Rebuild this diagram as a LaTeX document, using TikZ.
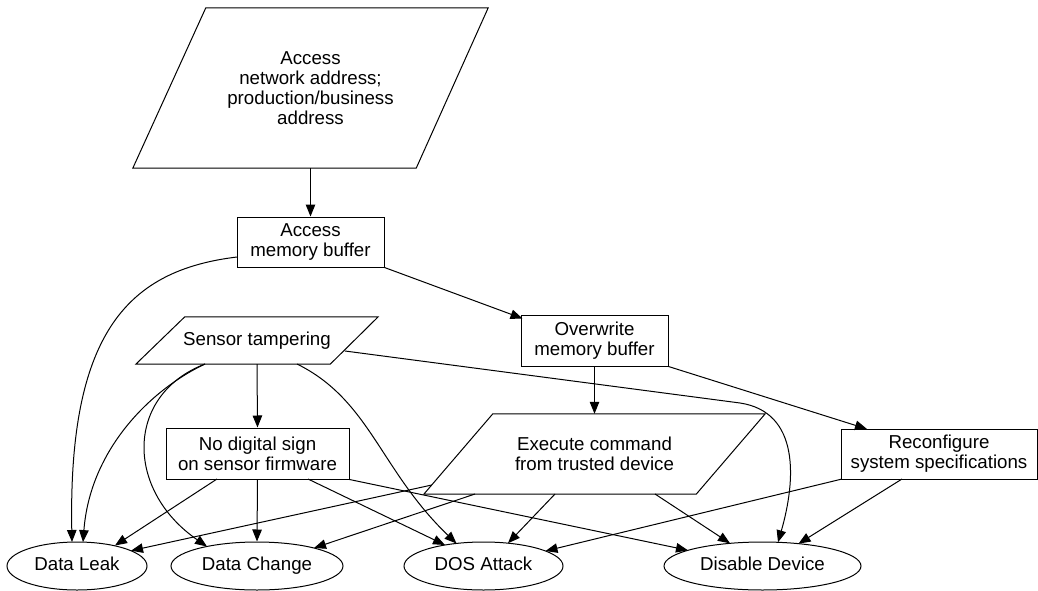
\documentclass[tikz,border=0pt]{standalone}
\usepackage{fontspec}
\setmainfont{Liberation Sans}
\usetikzlibrary{arrows.meta,calc,shapes.geometric}
\begin{document}
\begin{tikzpicture}[x=1pt,y=-1pt,
  every node/.style={font=\fontsize{18.7}{20}\selectfont, align=center, inner sep=0pt},
  rbox/.style={draw, line width=1pt, rectangle},
  pbox/.style={rectangle},
  oval/.style={draw, line width=1pt, ellipse, text height=13.4pt, text depth=4pt},
  pline/.style={draw, line width=1pt},
  conn/.style={-{Triangle[length=12pt,width=9.5pt]}, line width=1pt}]
\useasboundingbox (0,0) rectangle (1038,591);
% nodes
\node[pbox, minimum width=355pt, minimum height=160pt] (top) at (310.5,88) {Access\\network address;\\production/business\\address};
\node[rbox, minimum width=147pt, minimum height=50pt] (amb) at (310.5,242) {Access\\memory buffer};
\node[pbox, minimum width=242pt, minimum height=47pt] (sens) at (257,340.5) {Sensor tampering};
\node[rbox, minimum width=147pt, minimum height=51pt] (owb) at (594.5,340.5) {Overwrite\\memory buffer};
\node[rbox, minimum width=183pt, minimum height=51pt] (nds) at (257.5,453.5) {No digital sign\\on sensor firmware};
\node[pbox, minimum width=341pt, minimum height=80pt] (exe) at (594.5,454) {Execute command\\from trusted device};
\node[rbox, minimum width=196pt, minimum height=50pt] (rec) at (939,454) {Reconfigure\\system specifications};
\node[oval, minimum width=140pt, minimum height=48pt] (leak) at (77,566) {Data Leak};
\node[oval, minimum width=172pt, minimum height=48pt] (chg) at (257,566) {Data Change};
\node[oval, minimum width=159pt, minimum height=48pt] (dos) at (483.5,566) {DOS Attack};
\node[oval, minimum width=197pt, minimum height=48pt] (dis) at (762.5,566) {Disable Device};
% parallelogram outlines
\path[pline] ([xshift=73pt]top.north west) -- (top.north east) -- ([xshift=-72pt]top.south east) -- (top.south west) -- cycle;
\path[pline] ([xshift=49pt]sens.north west) -- (sens.north east) -- ([xshift=-48pt]sens.south east) -- (sens.south west) -- cycle;
\path[pline] ([xshift=69pt]exe.north west) -- (exe.north east) -- ([xshift=-69pt]exe.south east) -- (exe.south west) -- cycle;
% connectors
\draw[conn] (top.south) -- (amb.north);
\draw[conn] ($(amb.center)+(-73.5,15)$) .. controls (130,270) and (68,330) .. ($(leak.center)+(-5,-24)$);
\draw[conn] (amb.south east) -- ($(owb.center)+(-72,-22)$);
\draw[conn] (sens.south) -- (nds.north);
\draw[conn] ($(sens.center)+(-52,23.5)$) .. controls (150,390) and (90,450) .. ($(leak.center)+(6,-23.9)$);
\draw[conn] ($(sens.center)+(-52,23.5)$) .. controls (125,395) and (125,490) .. ($(chg.center)+(-50,-19.5)$);
\draw[conn] ($(sens.center)+(40,23.5)$) .. controls (370,400) and (380,470) .. ($(dos.center)+(-27,-22.5)$);
\draw[conn] ($(sens.center)+(88,10.5)$) -- (740,403) .. controls (800,412) and (796,480) .. ($(dis.center)+(15.5,-23.7)$);
\draw[conn] (owb.south) -- (exe.north);
\draw[conn] (owb.south east) -- ($(rec.center)+(-72,-25)$);
\draw[conn] ($(nds.center)+(-40.5,25.5)$) -- ($(leak.center)+(38,-20.5)$);
\draw[conn] (nds.south) -- (chg.north);
\draw[conn] ($(nds.center)+(50.5,25.5)$) -- ($(dos.center)+(-38.5,-21)$);
\draw[conn] (nds.south east) -- ($(dis.center)+(-74.5,-15.7)$);
\draw[conn] ($(exe.center)+(-162.7,31)$) -- ($(leak.center)+(54,-15.3)$);
\draw[conn] ($(exe.center)+(-119.5,40)$) -- ($(chg.center)+(57,-18)$);
\draw[conn] ($(exe.center)+(-39.5,40)$) -- ($(dos.center)+(24.5,-22.8)$);
\draw[conn] ($(exe.center)+(60.5,40)$) -- ($(dis.center)+(-32.5,-22.7)$);
\draw[conn] ($(rec.center)+(-97,25)$) -- ($(dos.center)+(62,-15)$);
\draw[conn] ($(rec.center)+(-37,25)$) -- ($(dis.center)+(36,-22.3)$);
\end{tikzpicture}
\end{document}
